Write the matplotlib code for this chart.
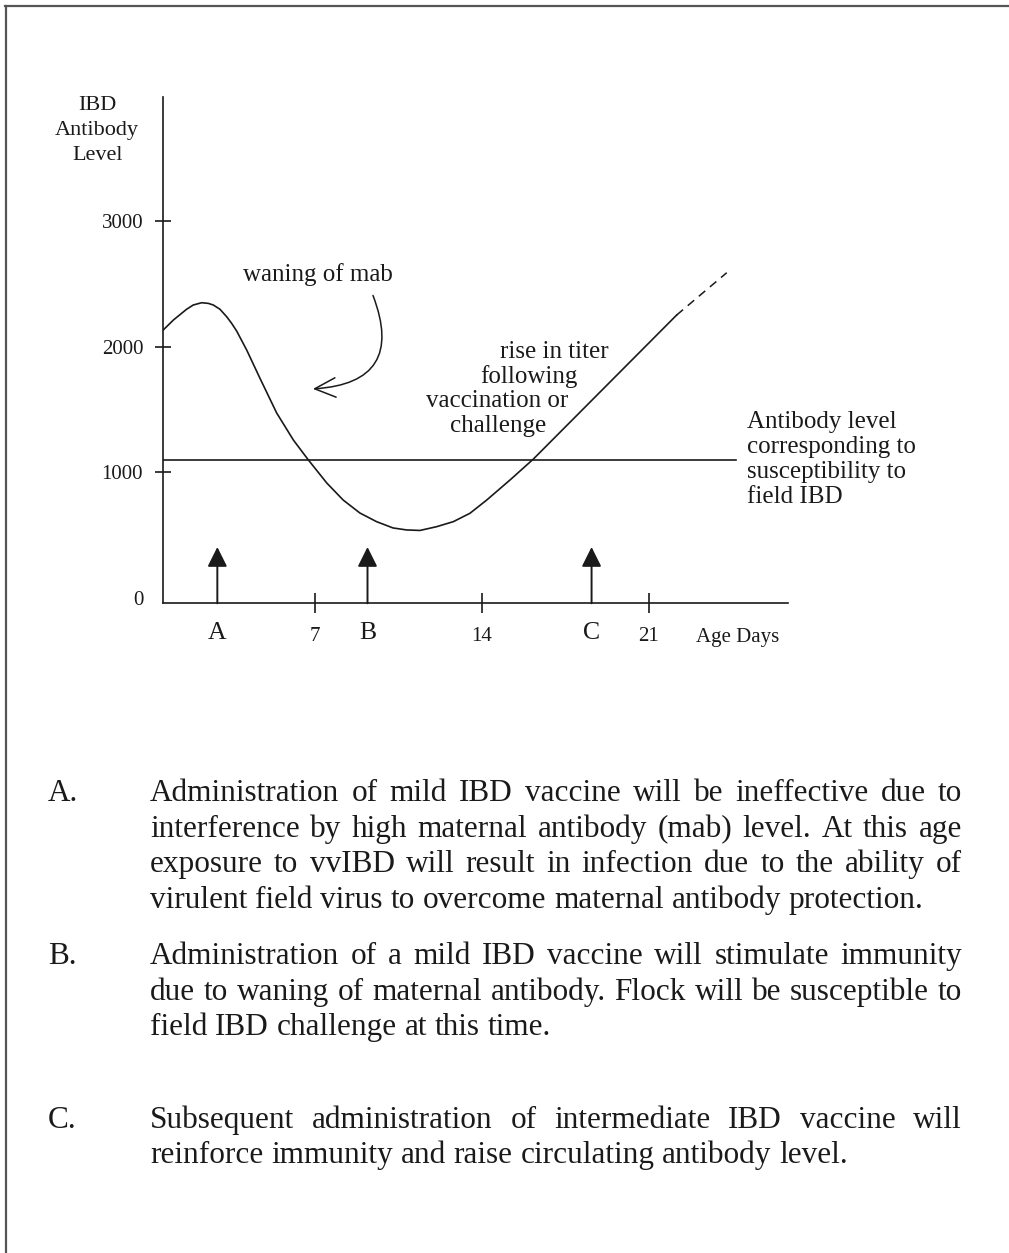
import matplotlib
matplotlib.use('Agg')
import matplotlib.pyplot as plt
from matplotlib.lines import Line2D
from matplotlib.patches import FancyArrowPatch

plt.rcParams['font.family'] = ['Liberation Serif', 'DejaVu Serif']

# antibody curve (age in days, titer)
days = [0.63, 1.06, 1.61, 1.89, 2.24, 2.52, 2.73, 3.01, 3.29, 3.50, 3.71, 4.13,
        4.69, 5.39, 6.09, 6.72, 7.49, 8.18, 8.88, 9.58, 10.27, 10.84, 11.40,
        12.10, 12.80, 13.50, 14.20, 15.18, 16.15, 18.39, 22.17]
titer = [2133, 2213, 2298, 2332, 2350, 2345, 2332, 2298, 2239, 2186, 2125, 1974,
         1748, 1472, 1257, 1098, 915, 779, 676, 607, 557, 541, 537,
         567, 607, 674, 779, 939, 1104, 1531, 2252]
ext_days = [22.17, 24.27]
ext_titer = [2252, 2589]

threshold = 1101
threshold_days = [0.63, 24.66]

vacc_labels = ['A', 'B', 'C']
vacc_days = [2.9, 9.2, 18.6]
vacc_arrow_top = 405

y_ticks = [0, 1000, 2000, 3000]
x_ticks = [7, 14, 21]

notes = {
    'A.': ["Administration of mild IBD vaccine will be ineffective due to",
           "interference by high maternal antibody (mab) level. At this age",
           "exposure to vvIBD will result in infection due to the ability of",
           "virulent field virus to overcome maternal antibody protection."],
    'B.': ["Administration of a mild IBD vaccine will stimulate immunity",
           "due to waning of maternal antibody. Flock will be susceptible to",
           "field IBD challenge at this time."],
    'C.': ["Subsequent administration of intermediate IBD vaccine will",
           "reinforce immunity and raise circulating antibody level."],
}
note_baselines = {'A.': [801, 837, 872, 908], 'B.': [964, 1000, 1035], 'C.': [1128, 1163]}

W, H = 1009, 1253
ink = '#1a1a1a'
fig = plt.figure(figsize=(W / 100, H / 100), dpi=100)


def px(x, y):
    return x / W, 1 - y / H


# frame lines (top and left only)
fig.add_artist(Line2D([5 / W, 1], [1 - 6 / H] * 2, color='#555555', lw=1.6))
fig.add_artist(Line2D([6 / W] * 2, [1 - 6 / H, 0], color='#555555', lw=1.6))

ax = fig.add_axes([163.3 / W, 1 - 603.3 / H, (787.5 - 163.3) / W, (603.3 - 97) / H])
ax.set_xlim(0.633, 26.82)
ax.set_ylim(-43, 3988)
ax.patch.set_visible(False)
for s in ['top', 'right']:
    ax.spines[s].set_visible(False)
for s in ['left', 'bottom']:
    ax.spines[s].set_linewidth(1.2)
    ax.spines[s].set_color(ink)

ax.set_yticks(y_ticks)
ax.set_yticklabels([str(v) for v in y_ticks])
ax.set_xticks(x_ticks)
ax.set_xticklabels([str(v) for v in x_ticks])
ax.tick_params(axis='y', direction='inout', length=12, width=1.2, pad=8.5,
               labelsize=15, colors=ink)
ax.tick_params(axis='x', direction='inout', length=14, width=1.2, pad=10,
               labelsize=15, colors=ink)
ax.yaxis.get_major_ticks()[0].tick1line.set_visible(False)

# curve and its dashed continuation
ax.plot(days, titer, color=ink, lw=1.2, solid_joinstyle='round')
ax.plot(ext_days, ext_titer, color=ink, lw=1.1, dashes=(5.5, 4))
ax.plot(threshold_days, [threshold] * 2, color=ink, lw=1.2)

# vaccination arrows
for lab, d in zip(vacc_labels, vacc_days):
    ax.annotate('', xy=(d, vacc_arrow_top), xytext=(d, -43), annotation_clip=False,
                arrowprops=dict(arrowstyle='-|>,head_length=0.6,head_width=0.3',
                                mutation_scale=20, lw=1.4, color=ink,
                                shrinkA=0, shrinkB=0))
    ax.text(d, -329, lab, ha='center', va='baseline', fontsize=18.5, color=ink)

ax.text(22.99, -348, 'Age Days', ha='left', va='baseline', fontsize=15, color=ink)

# y label
for txt, v in zip(['IBD', 'Antibody', 'Level'], [3885, 3688, 3490]):
    ax.text(-2.14, v, txt, ha='center', va='baseline', fontsize=16, color=ink)

# annotations
ax.text(7.10, 2523, 'waning of mab', ha='center', va='baseline', fontsize=18, color=ink)
arr = FancyArrowPatch((9.43, 2408), (6.91, 1664), connectionstyle='arc3,rad=-0.68',
                      arrowstyle='->,head_length=0.75,head_width=0.35',
                      mutation_scale=20, lw=1.1, color=ink, shrinkA=0, shrinkB=0)
ax.add_patch(arr)

for txt, d, v in zip(['rise in titer', 'following', 'vaccination or', 'challenge'],
                     [17.02, 15.97, 14.63, 14.66], [1909, 1710, 1519, 1320]):
    ax.text(d, v, txt, ha='center', va='baseline', fontsize=18, color=ink)

for txt, v in zip(['Antibody level', 'corresponding to', 'susceptibility to', 'field IBD'],
                  [1350, 1151, 952, 753]):
    ax.text(25.10, v, txt, ha='left', va='baseline', fontsize=18, color=ink)

# justified note paragraphs
renderer = fig.canvas.get_renderer()
body_size = 22.5
left, right = 150, 962
space_w = body_size * 100 / 72 * 0.25
for key, lines in notes.items():
    bases = note_baselines[key]
    fig.text(*px(48, bases[0]), key, fontsize=body_size, va='baseline', color=ink)
    for i, (line, yb) in enumerate(zip(lines, bases)):
        words = line.split()
        texts = [fig.text(0, 0, w, fontsize=body_size, va='baseline', color=ink) for w in words]
        widths = [t.get_window_extent(renderer).width for t in texts]
        if i < len(lines) - 1:
            gap = (right - left - sum(widths)) / (len(words) - 1)
        else:
            gap = space_w
        x = left
        for t, w in zip(texts, widths):
            t.set_position(px(x, yb))
            x += w + gap

fig.savefig('out.png', dpi=100)
